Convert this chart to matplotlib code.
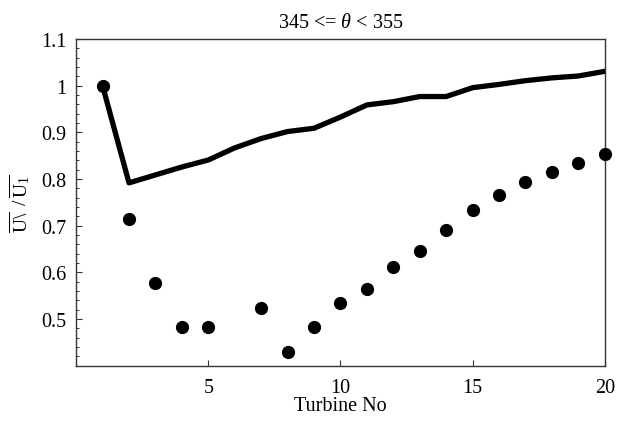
import numpy as np
import matplotlib
matplotlib.use("Agg")
import matplotlib.pyplot as plt
from matplotlib.ticker import FixedLocator, MultipleLocator

plt.rcParams["font.family"] = ["Liberation Serif", "DejaVu Serif"]
plt.rcParams["mathtext.fontset"] = "custom"
plt.rcParams["mathtext.rm"] = "Liberation Serif"
plt.rcParams["mathtext.it"] = "Liberation Serif:italic"

# turbine index
turbine = np.arange(1, 21)
# model curve
model = [1.0, 0.792, 0.809, 0.826, 0.841, 0.867, 0.887, 0.902, 0.909, 0.933,
         0.959, 0.966, 0.977, 0.977, 0.996, 1.003, 1.011, 1.017, 1.021, 1.031]
# measured points (turbine 6 missing)
meas_x = [1, 2, 3, 4, 5, 7, 8, 9, 10, 11, 12, 13, 14, 15, 16, 17, 18, 19, 20]
meas_y = [1.0, 0.714, 0.578, 0.483, 0.483, 0.524, 0.429, 0.483, 0.535, 0.564,
          0.611, 0.647, 0.691, 0.734, 0.765, 0.794, 0.816, 0.834, 0.853]

yticks = [0.5, 0.6, 0.7, 0.8, 0.9, 1.0, 1.1]
ytick_labels = ["0.5", "0.6", "0.7", "0.8", "0.9", "1", "1.1"]
xticks = [5, 10, 15, 20]

fig = plt.figure(figsize=(6.19, 4.27), dpi=100)
ax = fig.add_axes([0.123, 0.141, 0.854, 0.765])

ax.plot(turbine, model, color="black", lw=3.8, solid_joinstyle="round",
        solid_capstyle="round", zorder=3)
ax.plot(meas_x, meas_y, "o", color="black", ms=8.5, clip_on=False, zorder=4)

ax.set_xlim(0, 20)
ax.set_ylim(0.4, 1.1)
ax.xaxis.set_major_locator(FixedLocator(xticks))
ax.set_xticklabels([str(t) for t in xticks])
ax.yaxis.set_major_locator(FixedLocator(yticks))
ax.set_yticklabels(ytick_labels)
ax.yaxis.set_minor_locator(MultipleLocator(0.02))

ax.tick_params(axis="both", which="major", direction="in", length=4,
               width=0.8, labelsize=14.5, color="#333333")
ax.tick_params(axis="x", pad=9)
ax.tick_params(axis="y", which="major", pad=7)
ax.tick_params(axis="y", which="minor", direction="in", length=2.5,
               width=0.7, color="#333333")
ax.tick_params(top=False, right=False)

for s in ax.spines.values():
    s.set_color("#333333")
    s.set_linewidth(1.0)

ax.set_xlabel("Turbine No", fontsize=14.5, labelpad=-1)
ax.set_ylabel(r"$\overline{\mathrm{U}\backslash}\;\;/\,\overline{\mathrm{U}_1}$",
              fontsize=14, labelpad=6)
ax.set_title(r"345 <= $\theta$ < 355", fontsize=14.5, pad=9)

fig.savefig("out.png", dpi=100)
